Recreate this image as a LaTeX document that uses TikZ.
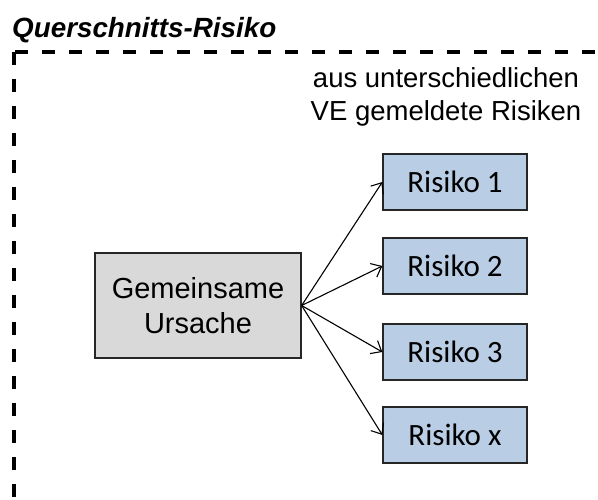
\documentclass[tikz,border=0pt]{standalone}
\usepackage{fontspec}
\setmainfont{Liberation Sans}
\newfontfamily\calibrifont{Carlito}
\usetikzlibrary{arrows.meta}
\definecolor{causefill}{HTML}{D9D9D9}
\definecolor{riskfill}{HTML}{B9CDE5}
\begin{document}
\begin{tikzpicture}[x=1pt,y=-1pt,
  causebox/.style={draw=black!85, line width=1.3pt, fill=causefill,
    minimum width=206pt, minimum height=105pt, inner sep=0pt,
    align=center, font=\fontsize{29}{35}\selectfont},
  riskbox/.style={draw=black!85, line width=1.3pt, fill=riskfill,
    minimum width=144pt, minimum height=56pt, inner sep=0pt,
    font=\calibrifont\fontsize{31}{36}\selectfont},
  link/.style={line width=1.1pt, -{Straight Barb[length=9pt,width=15pt,line width=1.1pt]}},
  frame/.style={line width=3.5pt, dash pattern=on 13pt off 14pt}]
\useasboundingbox (0,0) rectangle (598,500);
\begin{scope}
  \clip (0,0) rectangle (598,500);
  \draw[frame] (14,52) rectangle (640,540);
\end{scope}
\node[anchor=base west, inner sep=0pt, font=\fontsize{27.8}{32}\selectfont\bfseries\itshape]
  (title) at (12,38) {Querschnitts-Risiko};
\node[align=center, inner sep=0pt, font=\fontsize{27.5}{33}\selectfont, anchor=base]
  (note) at (446,121) {aus unterschiedlichen\\VE gemeldete Risiken};
\node[causebox] (cause) at (198,305.5) {Gemeinsame\\Ursache};
\node[riskbox] (r1) at (455,182) {Risiko 1};
\node[riskbox] (r2) at (455,266) {Risiko 2};
\node[riskbox] (r3) at (455,352) {Risiko 3};
\node[riskbox] (rx) at (455,435) {Risiko x};
\foreach \r in {r1,r2,r3,rx}
  \draw[link] (cause.east) -- (\r.west);
\end{tikzpicture}
\end{document}
